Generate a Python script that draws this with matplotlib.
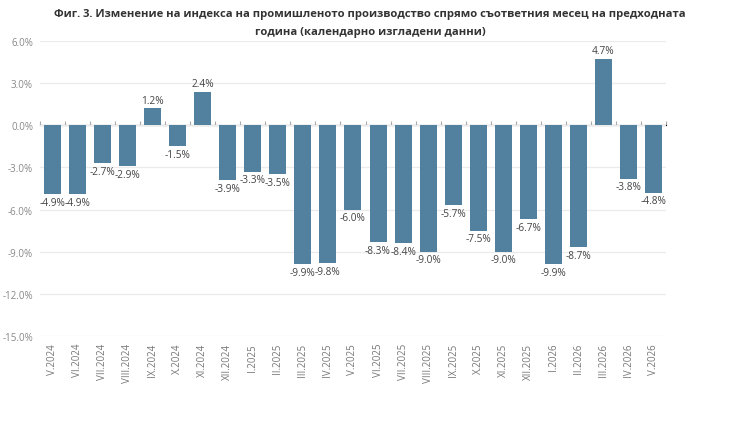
import matplotlib
matplotlib.use('Agg')
import matplotlib.pyplot as plt
from matplotlib.ticker import FuncFormatter

months = ['V.2024', 'VI.2024', 'VII.2024', 'VIII.2024', 'IX.2024', 'X.2024', 'XI.2024',
          'XII.2024', 'I.2025', 'II.2025', 'III.2025', 'IV.2025', 'V.2025', 'VI.2025',
          'VII.2025', 'VIII.2025', 'IX.2025', 'X.2025', 'XI.2025', 'XII.2025', 'I.2026',
          'II.2026', 'III.2026', 'IV.2026', 'V.2026']
values = [-4.9, -4.9, -2.7, -2.9, 1.2, -1.5, 2.4, -3.9, -3.3, -3.5, -9.9, -9.8, -6.0,
          -8.3, -8.4, -9.0, -5.7, -7.5, -9.0, -6.7, -9.9, -8.7, 4.7, -3.8, -4.8]
y_ticks = [6, 3, 0, -3, -6, -9, -12, -15]

title = ('Фиг. 3. Изменение на индекса на промишленото производство спрямо съответния месец на предходната\n'
         'година (календарно изгладени данни)')

plt.rcParams['font.family'] = ['Open Sans', 'DejaVu Sans']

fig = plt.figure(figsize=(7.4, 4.27), dpi=100)
ax = fig.add_axes([0.054, 0.2108, 0.846, 0.6908])

xs = list(range(len(months)))
bars = ax.bar(xs, values, width=0.68, color='#52809f', zorder=3)

for x, v in zip(xs, values):
    if v >= 0:
        ax.annotate(f'{v:.1f}%', (x, v), xytext=(0, 2), textcoords='offset points',
                    ha='center', va='bottom', fontsize=7.3, color='#444444')
    else:
        ax.annotate(f'{v:.1f}%', (x, v), xytext=(0, -2), textcoords='offset points',
                    ha='center', va='top', fontsize=7.3, color='#444444')

ax.set_xlim(-0.5, len(months) - 0.5)
ax.set_ylim(-15, 6)
ax.set_yticks(y_ticks)
ax.yaxis.set_major_formatter(FuncFormatter(lambda v, p: f'{v:.1f}%'))
ax.grid(axis='y', color='#ebebeb', linewidth=0.9, zorder=0)
ax.set_axisbelow(True)

ax.set_xticks(xs)
ax.set_xticklabels(months, rotation=90, fontsize=7, color='#777777')
ax.tick_params(axis='x', length=0, pad=5)
ax.tick_params(axis='y', length=0, labelsize=7, labelcolor='#888888', pad=5)
for s in ax.spines.values():
    s.set_visible(False)

# zero line with ticks between categories
sec = ax.secondary_xaxis(15 / 21)
sec.set_xticks([i - 0.5 for i in range(len(months) + 1)])
sec.set_xticklabels([])
sec.tick_params(axis='x', direction='out', length=3, color='#aaaaaa', width=0.8)
sec.spines['bottom'].set_color('#aaaaaa')
sec.spines['bottom'].set_linewidth(0.8)

fig.text(0.5, 0.978, title, ha='center', va='top', fontsize=8.1, fontweight='bold',
         color='#333333', linespacing=1.85)

fig.savefig('out.png', dpi=100)
